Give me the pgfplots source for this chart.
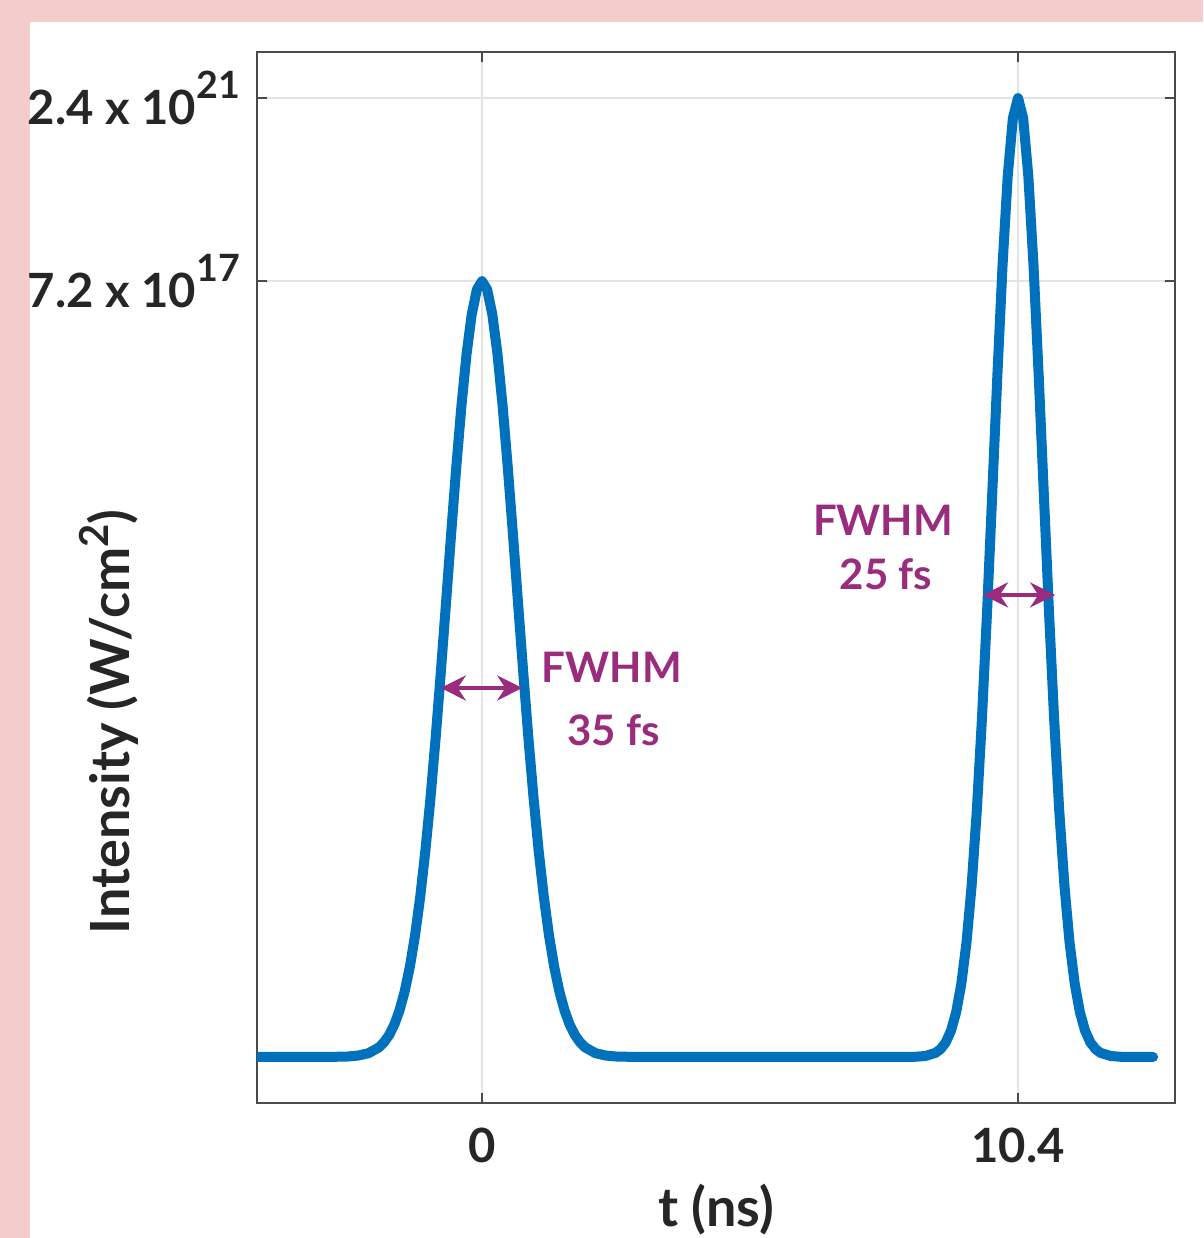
\documentclass[border=0pt]{standalone}
\usepackage{fontspec}
\setmainfont{Lato}
\usepackage{pgfplots}
\pgfplotsset{compat=1.18}
\usetikzlibrary{arrows.meta}
\definecolor{pinkbg}{HTML}{F4CCCC}
\definecolor{mblue}{HTML}{0072BD}
\definecolor{fwhm}{HTML}{9A2C7E}
\definecolor{axgray}{HTML}{4A4A4A}
\definecolor{txt}{HTML}{262626}

\newcommand{\tickfont}{\fontsize{11.8}{14}\selectfont\bfseries}
\newcommand{\expo}[1]{\raisebox{6.4pt}{\fontsize{9.4}{10}\selectfont #1}}

\begin{document}
\begin{tikzpicture}
\path[use as bounding box] (0,0) rectangle (300.75pt,-309.5pt);
\clip (0,0) rectangle (300.75pt,-309.5pt);
\fill[pinkbg] (0,0) rectangle (300.75pt,-309.5pt);
\fill[white] (7.5pt,-5.5pt) rectangle (300.75pt,-309.5pt);
\begin{axis}[
    at={(64.25pt,-13pt)}, anchor=north west,
    width=229.5pt, height=262.75pt, scale only axis,
    xmin=-4.366, xmax=13.446,
    ymin=-0.048, ymax=1.048,
    xtick={0,10.4}, xticklabels={0,10.4},
    ytick={0.809,1},
    yticklabels={{7.2 x 10\expo{17}},{2.4 x 10\expo{21}}},
    tick align=inside, tick pos=both,
    major tick length=2.5pt,
    grid=major,
    major grid style={black!11, line width=0.4pt},
    axis line style={axgray, line width=0.5pt},
    every tick/.append style={axgray, line width=0.5pt},
    tick label style={font=\tickfont, text=txt},
    xticklabel style={yshift=-2.75pt},
    yticklabel style={xshift=-0.75pt},
]
\addplot[mblue, line width=2.5pt, line join=round, line cap=round] table {
x y
-4.366 0
-3.0 0
-2.6 0.0005
-2.4 0.0015
-2.2 0.0040
-2.0 0.0100
-1.9 0.0154
-1.8 0.0231
-1.7 0.0339
-1.6 0.0487
-1.5 0.0685
-1.4 0.0941
-1.3 0.1266
-1.2 0.1666
-1.1 0.2145
-1.0 0.2700
-0.9 0.3326
-0.8 0.4008
-0.7 0.4725
-0.6 0.5450
-0.5 0.6149
-0.4 0.6787
-0.3 0.7330
-0.2 0.7743
-0.1 0.8002
0.0 0.8090
0.1 0.8002
0.2 0.7743
0.3 0.7330
0.4 0.6787
0.5 0.6149
0.6 0.5450
0.7 0.4725
0.8 0.4008
0.9 0.3326
1.0 0.2700
1.1 0.2145
1.2 0.1666
1.3 0.1266
1.4 0.0941
1.5 0.0685
1.6 0.0487
1.7 0.0339
1.8 0.0231
1.9 0.0154
2.0 0.0100
2.2 0.0040
2.4 0.0015
2.6 0.0005
3.0 0
7.8 0
8.2 0
8.4 0.0002
8.6 0.0010
8.8 0.0043
8.9 0.0084
9.0 0.0155
9.1 0.0275
9.2 0.0468
9.3 0.0764
9.4 0.1193
9.5 0.1788
9.6 0.2566
9.7 0.3529
9.8 0.4652
9.9 0.5878
10.0 0.7117
10.1 0.8259
10.2 0.9185
10.3 0.9790
10.4 1.0000
10.5 0.9790
10.6 0.9185
10.7 0.8259
10.8 0.7117
10.9 0.5878
11.0 0.4652
11.1 0.3529
11.2 0.2566
11.3 0.1788
11.4 0.1193
11.5 0.0764
11.6 0.0468
11.7 0.0275
11.8 0.0155
11.9 0.0084
12.0 0.0043
12.2 0.0010
12.4 0.0002
12.6 0
13.02 0
};
\draw[fwhm, line width=1pt, {Stealth[length=6.25pt,width=6.25pt]}-{Stealth[length=6.25pt,width=6.25pt]}]
    (axis cs:-0.80,0.3848) -- (axis cs:0.78,0.3848);
\draw[fwhm, line width=1pt, {Stealth[length=6.25pt,width=6.25pt]}-{Stealth[length=6.25pt,width=6.25pt]}]
    (axis cs:9.72,0.4818) -- (axis cs:11.12,0.4818);
\node[fwhm, font=\fontsize{10.5}{12}\selectfont\bfseries, anchor=base, inner sep=0pt] at (axis cs:2.52,0.390) {FWHM};
\node[fwhm, font=\fontsize{10.5}{12}\selectfont\bfseries, anchor=base, inner sep=0pt] at (axis cs:2.55,0.3243) {35 fs};
\node[fwhm, font=\fontsize{10.5}{12}\selectfont\bfseries, anchor=base, inner sep=0pt] at (axis cs:7.78,0.5443) {FWHM};
\node[fwhm, font=\fontsize{10.5}{12}\selectfont\bfseries, anchor=base, inner sep=0pt] at (axis cs:7.84,0.4870) {25 fs};
\end{axis}
\node[txt, font=\fontsize{13.5}{15}\selectfont\bfseries, anchor=base, inner sep=0pt] at (179pt,-306.6pt) {t (ns)};
\node[txt, font=\fontsize{13.5}{15}\selectfont\bfseries, anchor=base, rotate=90, inner sep=0pt] at (32.25pt,-180.5pt) {Intensity (W/cm\raisebox{5.2pt}{\fontsize{10}{11}\selectfont 2})};
\end{tikzpicture}
\end{document}
